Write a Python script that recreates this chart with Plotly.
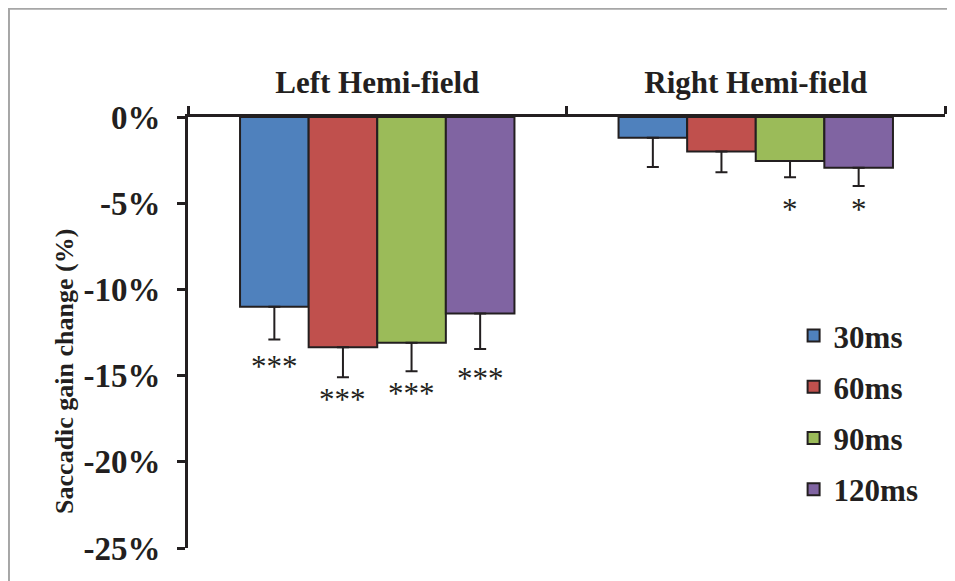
import plotly.graph_objects as go

# ---- data ----
categories = ["Left Hemi-field", "Right Hemi-field"]
series_names = ["30ms", "60ms", "90ms", "120ms"]
values = {
    "30ms": [-11.0, -1.2],
    "60ms": [-13.35, -2.0],
    "90ms": [-13.1, -2.55],
    "120ms": [-11.4, -2.95],
}
errors = {
    "30ms": [1.9, 1.7],
    "60ms": [1.75, 1.2],
    "90ms": [1.65, 0.95],
    "120ms": [2.05, 1.05],
}
stars = {
    "30ms": ["***", ""],
    "60ms": ["***", ""],
    "90ms": ["***", "*"],
    "120ms": ["***", "*"],
}
star_y = {
    "30ms": [-14.5, None],
    "60ms": [-16.4, None],
    "90ms": [-16.05, -5.35],
    "120ms": [-15.15, -5.35],
}
tick_vals = [0, -5, -10, -15, -20, -25]
tick_text = ["0%", "-5%", "-10%", "-15%", "-20%", "-25%"]
y_title = "Saccadic gain change (%)"
colors = ["#4F81BD", "#C0504D", "#9BBB59", "#8064A2"]

FONT = "Liberation Serif"
INK = "#231f20"
bargap = 0.275

fig = go.Figure()
for i, name in enumerate(series_names):
    fig.add_trace(go.Bar(
        x=categories, y=values[name], name=name,
        legendgroup=name,
        marker=dict(color=colors[i], line=dict(color=INK, width=2)),
        error_y=dict(type="data", symmetric=False,
                     array=[0] * len(categories), arrayminus=errors[name],
                     color=INK, thickness=2, width=6),
    ))

# star annotations, positioned at bar centres within each group
n = len(series_names)
w = (1 - bargap) / n
for i, name in enumerate(series_names):
    off = -(1 - bargap) / 2 + w * (i + 0.5)
    for j, cat in enumerate(categories):
        if stars[name][j]:
            fig.add_annotation(x=j + off, y=star_y[name][j], xref="x", yref="y",
                               text=stars[name][j], showarrow=False,
                               font=dict(family=FONT, size=31, color=INK))

# y-axis title (placed below the axis centre, as in the original)
fig.add_annotation(x=-0.163, y=0.41, xref="paper", yref="paper",
                   text=y_title, textangle=-90, showarrow=False,
                   xanchor="center", yanchor="middle",
                   font=dict(family=FONT, size=26, color=INK, weight="bold"))

# outer frame
fig.add_shape(type="rect", xref="paper", yref="paper",
              x0=-0.2365, x1=1.2, y0=-0.3, y1=1.251,
              line=dict(color="#a6a6a6", width=2), fillcolor="rgba(0,0,0,0)", layer="below")

fig.update_layout(
    width=947, height=573,
    margin=dict(l=180, r=10, t=109, b=33),
    paper_bgcolor="white", plot_bgcolor="white",
    barmode="group", bargap=bargap, bargroupgap=0,
    font=dict(family=FONT, color=INK),
    showlegend=True,
    legend=dict(x=0.80, y=0.555, xanchor="left", yanchor="top",
                font=dict(family=FONT, size=31, color=INK, weight="bold"),
                tracegroupgap=8, bgcolor="rgba(0,0,0,0)"),
    xaxis=dict(type="category", side="top", showline=True, linecolor=INK, linewidth=3,
               ticks="outside", tickson="boundaries", ticklen=8, tickwidth=3, tickcolor=INK,
               ticklabelstandoff=9,
               tickfont=dict(family=FONT, size=31, color=INK, weight="bold"),
               showgrid=False, zeroline=False, anchor="y", position=1),
    yaxis=dict(range=[-25, 0], tickvals=tick_vals, ticktext=tick_text,
               showline=True, linecolor=INK, linewidth=3,
               ticks="outside", ticklen=8, tickwidth=3, tickcolor=INK,
               ticklabelstandoff=10,
               tickfont=dict(family=FONT, size=33, color=INK, weight="bold"),
               showgrid=False, zeroline=False),
)

fig.write_html("out.html")
